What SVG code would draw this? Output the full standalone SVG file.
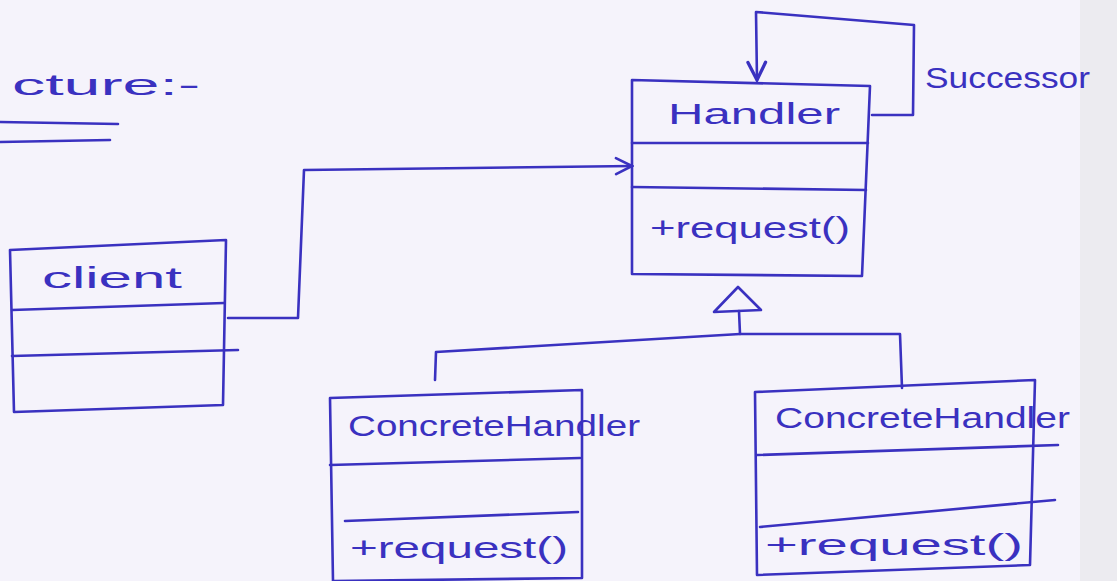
<svg xmlns="http://www.w3.org/2000/svg" width="1117" height="581" viewBox="0 0 1117 581">
<defs>
<style>
.ink{fill:none;stroke:#3a31c0;stroke-width:2.6;stroke-linecap:round;stroke-linejoin:round}
.t{font-family:"Liberation Sans","DejaVu Sans",sans-serif;fill:#3a31c0;font-size:30px}
</style>
<marker id="open" viewBox="0 0 20 20" refX="18" refY="10" markerWidth="20" markerHeight="20" markerUnits="userSpaceOnUse" orient="auto">
<path d="M2 2 L18 10 L2 18" fill="none" stroke="#3a31c0" stroke-width="2.6" stroke-linecap="round"/>
</marker>
<marker id="down" viewBox="0 0 20 20" refX="18" refY="10" markerWidth="22" markerHeight="22" markerUnits="userSpaceOnUse" orient="auto">
<path d="M2 2 L18 10 L2 18" fill="none" stroke="#3a31c0" stroke-width="3" stroke-linecap="round"/>
</marker>
</defs>
<rect width="1117" height="581" fill="#f5f3fb"/>
<rect x="1080" y="0" width="37" height="581" fill="#ecebf0"/>

<g id="heading">
<text class="t" x="12" y="95" font-size="42" textLength="188" lengthAdjust="spacingAndGlyphs">cture:-</text>
<path class="ink" d="M0 122 L118 124 M0 142 L110 140"/>
</g>

<g id="handler">
<path class="ink" d="M632 80 L870 86 L862 276 L632 274 Z"/>
<path class="ink" d="M632 143 L868 143 M632 187 L866 190"/>
<text class="t" x="668" y="124" textLength="172" lengthAdjust="spacingAndGlyphs">Handler</text>
<text class="t" x="650" y="238" textLength="200" lengthAdjust="spacingAndGlyphs">+request()</text>
</g>

<g id="client">
<path class="ink" d="M10 250 L226 240 L223 405 L14 412 Z"/>
<path class="ink" d="M12 310 L224 303 M12 356 L238 350"/>
<text class="t" x="42" y="288" textLength="140" lengthAdjust="spacingAndGlyphs">client</text>
</g>

<g id="concrete1">
<path class="ink" d="M330 398 L582 390 L582 578 L333 581 Z"/>
<path class="ink" d="M330 465 L580 458 M345 521 L578 512"/>
<text class="t" x="348" y="436" textLength="292" lengthAdjust="spacingAndGlyphs">ConcreteHandler</text>
<text class="t" x="350" y="558" textLength="218" lengthAdjust="spacingAndGlyphs">+request()</text>
</g>

<g id="concrete2">
<path class="ink" d="M755 392 L1035 380 L1030 565 L757 575 Z"/>
<path class="ink" d="M757 455 L1058 445 M760 527 L1055 500"/>
<text class="t" x="775" y="428" textLength="295" lengthAdjust="spacingAndGlyphs">ConcreteHandler</text>
<text class="t" x="765" y="555" textLength="258" lengthAdjust="spacingAndGlyphs">+request()</text>
</g>

<g id="successor-label">
<text class="t" x="925" y="88" textLength="165" lengthAdjust="spacingAndGlyphs">Successor</text>
</g>

<g id="connectors">
<path class="ink" d="M872 115 L913 115 L914 25 L756 12 L757 80" marker-end="url(#down)"/>
<path class="ink" d="M228 318 L298 318 L304 170 L632 166" marker-end="url(#open)"/>
<path class="ink" d="M738 287 L761 310 L714 312 Z"/>
<path class="ink" d="M739 311 L740 334"/>
<path class="ink" d="M435 380 L436 352 L740 334 L900 334 L902 388"/>
</g>
</svg>
